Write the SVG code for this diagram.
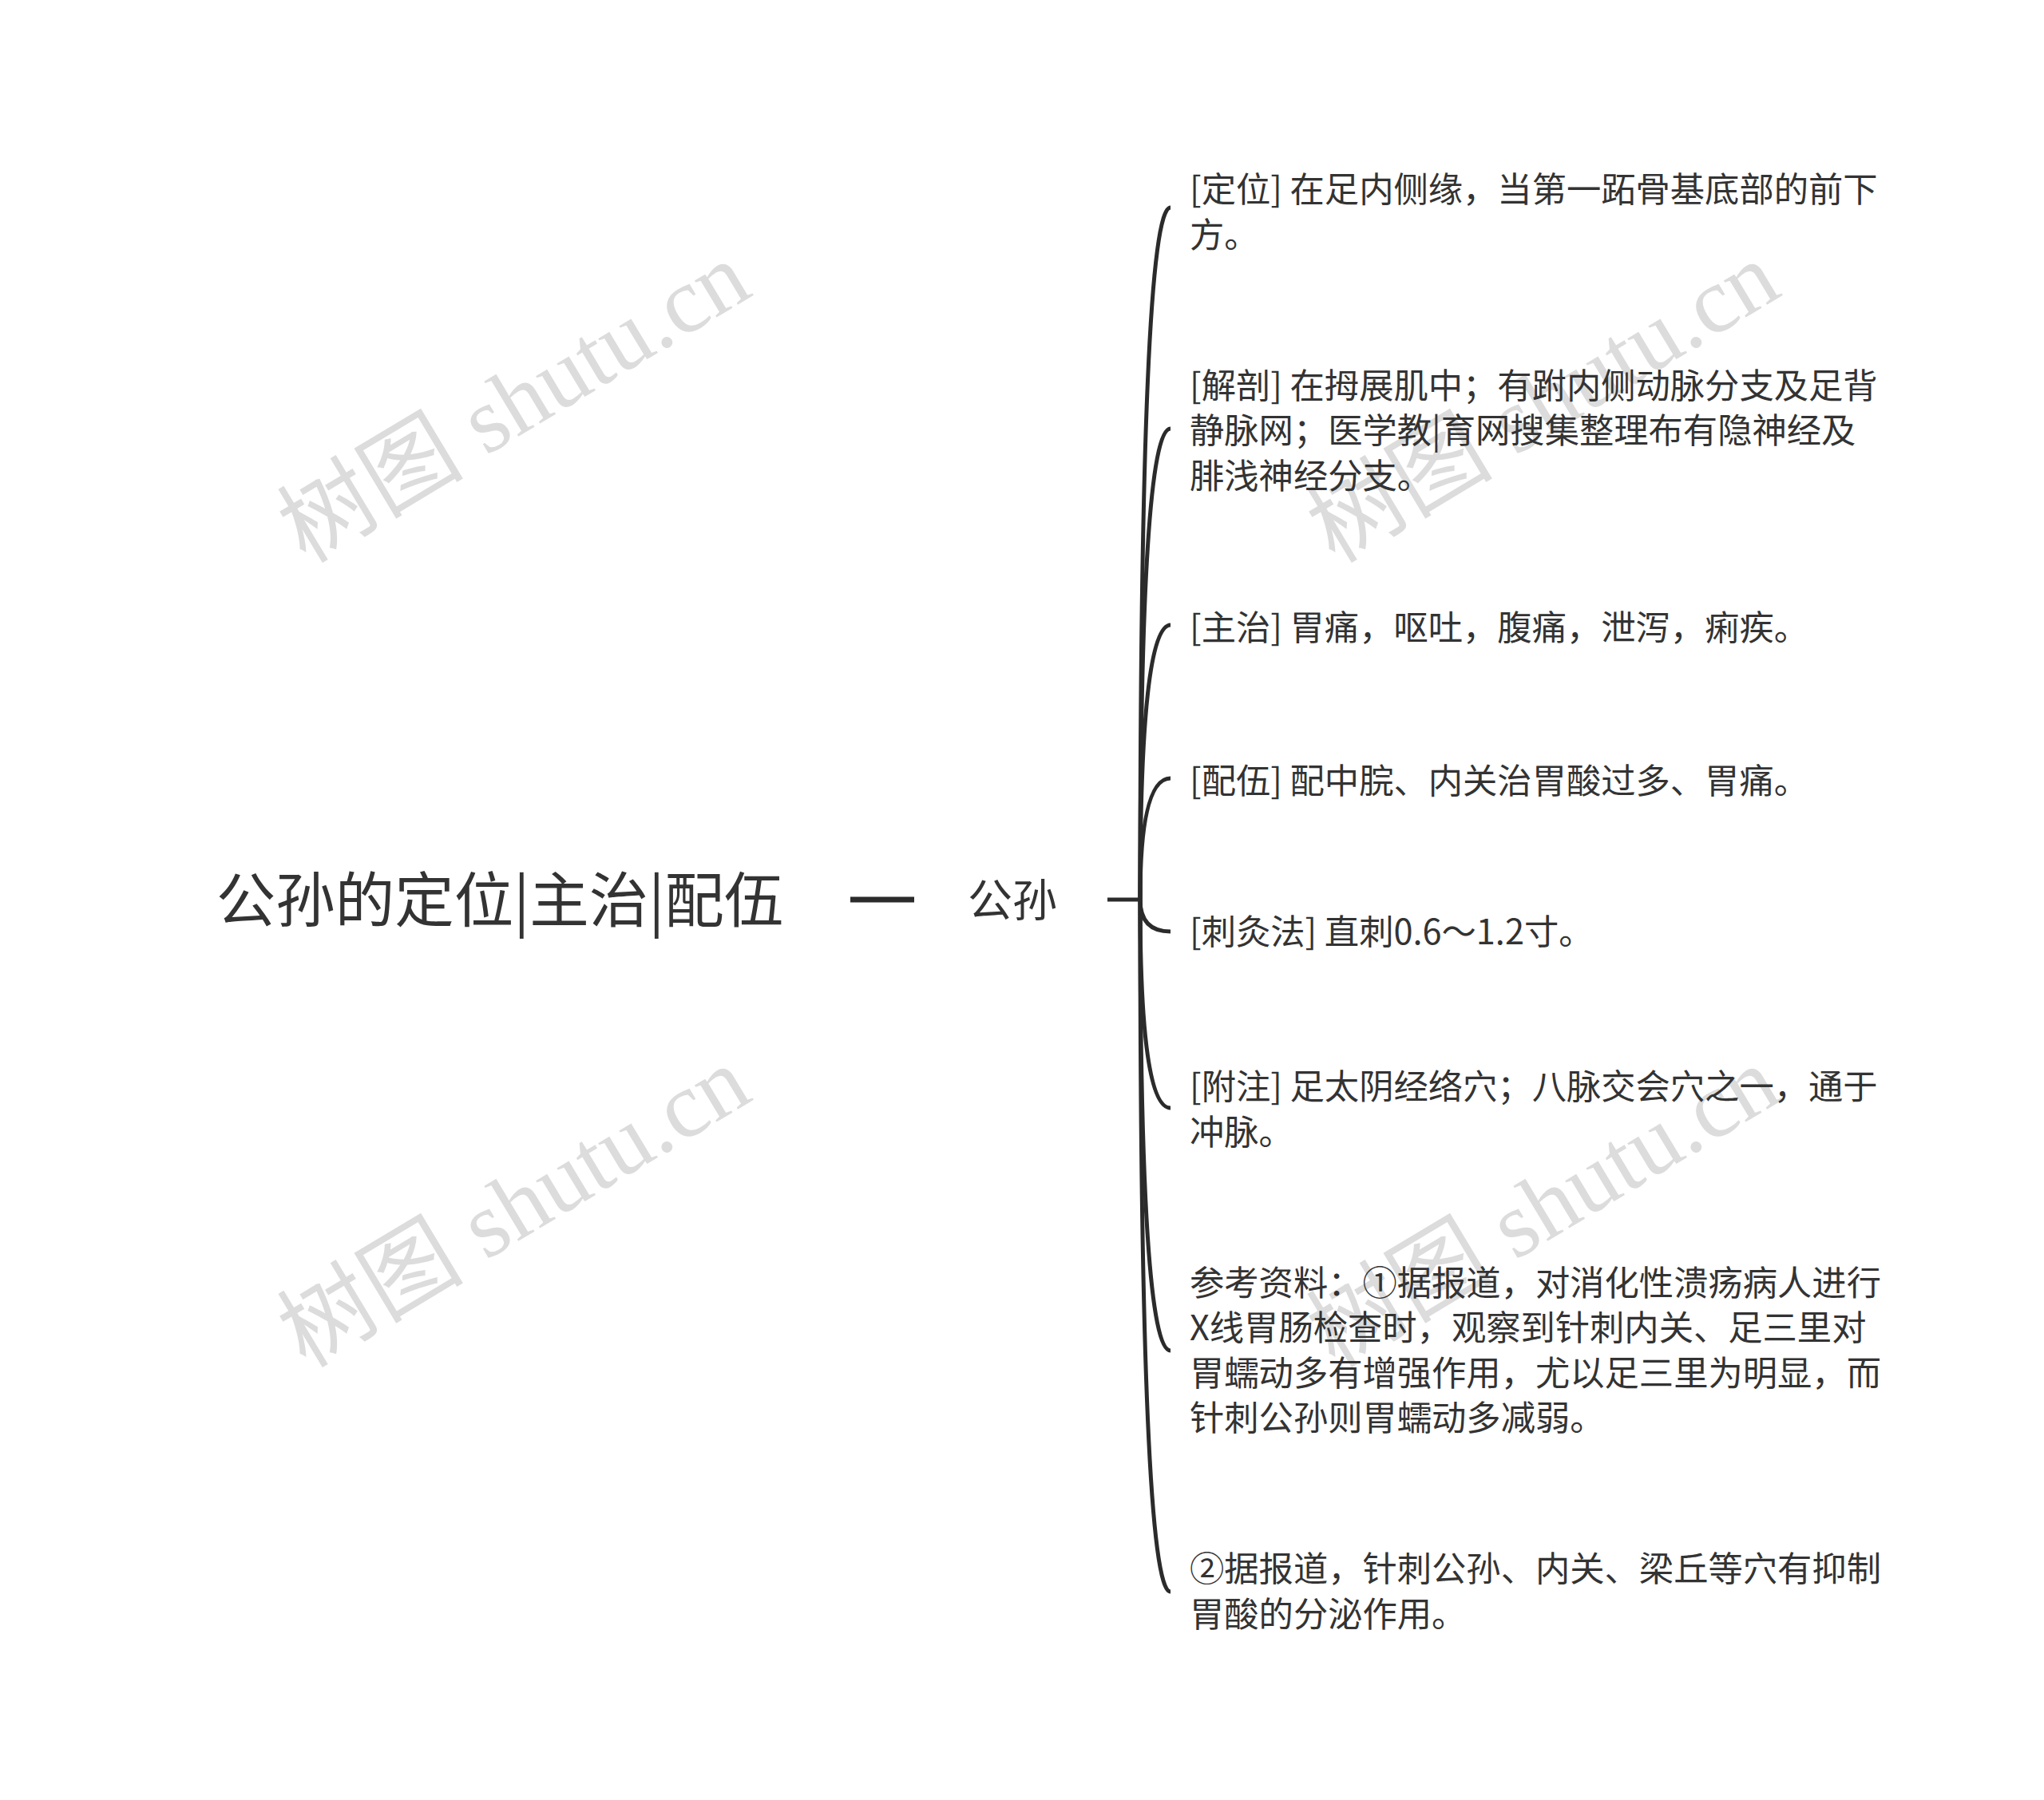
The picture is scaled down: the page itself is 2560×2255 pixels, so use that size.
<svg xmlns="http://www.w3.org/2000/svg" width="2560" height="2255" viewBox="0 0 2560 2255">
<style>
.wm{font-family:"Liberation Serif","Noto Sans CJK SC",serif;font-size:117px;fill:#dcdcdc;}
.t{font-family:"Noto Sans CJK SC","Noto Sans CJK TC",sans-serif;fill:#333333;}
.leaf{font-size:43.3px;}
.c{fill:none;stroke:#2b2b2b;stroke-width:5;stroke-linecap:butt;}
</style>
<rect x="0" y="0" width="2560" height="2255" fill="#ffffff"/>
<g id="watermarks">
<text class="wm" text-anchor="middle" transform="translate(664,538) rotate(-31)">树图 shutu.cn</text>
<text class="wm" text-anchor="middle" transform="translate(1953,538) rotate(-31)">树图 shutu.cn</text>
<text class="wm" text-anchor="middle" transform="translate(664,1546) rotate(-31)">树图 shutu.cn</text>
<text class="wm" text-anchor="middle" transform="translate(1953,1546) rotate(-31)">树图 shutu.cn</text>
</g>
<g id="connectors">
<line x1="1065" y1="1127" x2="1145" y2="1127" stroke="#2b2b2b" stroke-width="7"/>
<line x1="1387" y1="1127" x2="1430" y2="1127" stroke="#2b2b2b" stroke-width="5"/>
<path class="c" d="M1428,1127 Q1428,260 1466,260"/>
<path class="c" d="M1428,1127 Q1428,537 1466,537"/>
<path class="c" d="M1428,1127 Q1428,783 1466,783"/>
<path class="c" d="M1428,1127 Q1428,975 1466,975"/>
<path class="c" d="M1428,1127 Q1428,1167 1466,1167"/>
<path class="c" d="M1428,1127 Q1428,1388 1466,1388"/>
<path class="c" d="M1428,1127 Q1428,1692 1466,1692"/>
<path class="c" d="M1428,1127 Q1428,1994 1466,1994"/>
</g>
<g id="title">
<text class="t" x="626" y="1155" font-size="74.5" text-anchor="middle">公孙的定位|主治|配伍</text>
</g>
<g id="node-gongsun">
<text class="t" x="1268" y="1148" font-size="56" text-anchor="middle">公孙</text>
</g>
<g id="node-dingwei">
<text class="t leaf" x="1490" y="253">[定位] 在足内侧缘，当第一跖骨基底部的前下</text>
<text class="t leaf" x="1490" y="309.5">方。</text>
</g>
<g id="node-jiepou">
<text class="t leaf" x="1490" y="498.5">[解剖] 在拇展肌中；有跗内侧动脉分支及足背</text>
<text class="t leaf" x="1490" y="555">静脉网；医学教|育网搜集整理布有隐神经及</text>
<text class="t leaf" x="1490" y="611.5">腓浅神经分支。</text>
</g>
<g id="node-zhuzhi">
<text class="t leaf" x="1490" y="802">[主治] 胃痛，呕吐，腹痛，泄泻，痢疾。</text>
</g>
<g id="node-peiwu">
<text class="t leaf" x="1490" y="994">[配伍] 配中脘、内关治胃酸过多、胃痛。</text>
</g>
<g id="node-cijiufa">
<text class="t leaf" x="1490" y="1183">[刺灸法] 直刺0.6～1.2寸。</text>
</g>
<g id="node-fuzhu">
<text class="t leaf" x="1490" y="1377">[附注] 足太阴经络穴；八脉交会穴之一，通于</text>
<text class="t leaf" x="1490" y="1433.5">冲脉。</text>
</g>
<g id="node-cankao">
<text class="t leaf" x="1490" y="1622.5">参考资料：①据报道，对消化性溃疡病人进行</text>
<text class="t leaf" x="1490" y="1679">X线胃肠检查时，观察到针刺内关、足三里对</text>
<text class="t leaf" x="1490" y="1735.5">胃蠕动多有增强作用，尤以足三里为明显，而</text>
<text class="t leaf" x="1490" y="1792">针刺公孙则胃蠕动多减弱。</text>
</g>
<g id="node-baodao2">
<text class="t leaf" x="1490" y="1981">②据报道，针刺公孙、内关、梁丘等穴有抑制</text>
<text class="t leaf" x="1490" y="2037.5">胃酸的分泌作用。</text>
</g>
</svg>
